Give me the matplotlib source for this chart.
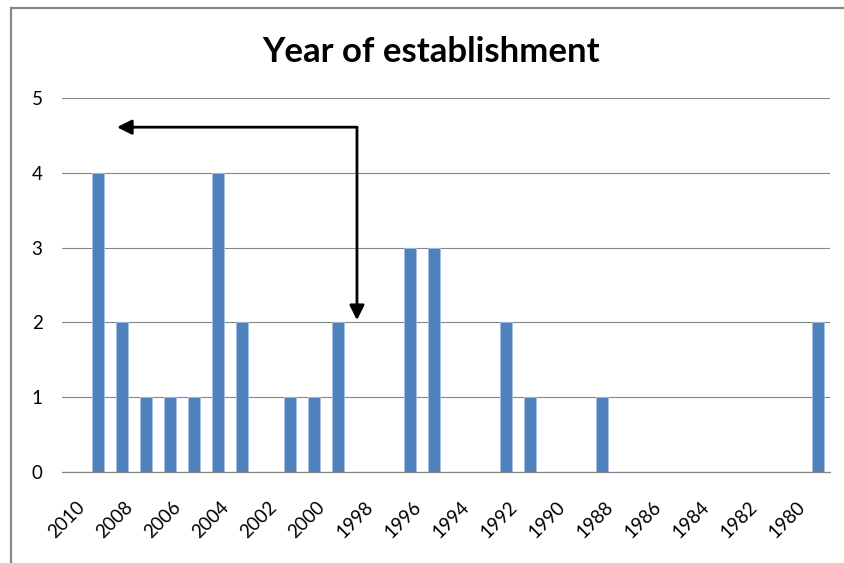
import matplotlib
matplotlib.use("Agg")
import matplotlib.pyplot as plt
import matplotlib.transforms as mtransforms
from matplotlib.lines import Line2D

# Number of organisations by year of establishment (newest first)
years = list(range(2010, 1978, -1))
counts = [0, 4, 2, 1, 1, 1, 4, 2, 0, 1, 1, 2, 0, 0, 3, 3,
          0, 0, 2, 1, 0, 0, 1, 0, 0, 0, 0, 0, 0, 0, 0, 2]
label_years = [y for y in years if y % 2 == 0]
y_ticks = [0, 1, 2, 3, 4, 5]
title = "Year of establishment"

plt.rcParams['font.family'] = ['Lato', 'DejaVu Sans']

W, H = 844, 563
fig = plt.figure(figsize=(W / 100, H / 100), dpi=100)
fig.patch.set_facecolor('white')

# chart frame (left and top edges)
frame_x, frame_y = 11 / W, 1 - 8 / H
fig.lines.append(Line2D([frame_x, frame_x], [0, frame_y],
                        transform=fig.transFigure, color='#888888', lw=1.6))
fig.lines.append(Line2D([frame_x, 1], [frame_y, frame_y],
                        transform=fig.transFigure, color='#888888', lw=1.6))

ax = fig.add_axes([62 / W, 1 - 472 / H, (830 - 62) / W, (472 - 98) / H])
idx = list(range(len(years)))
ax.bar(idx, counts, width=0.54, color='#4F81BD', edgecolor='#A7C0E2',
       linewidth=0.6, zorder=3)

ax.set_xlim(-0.5, len(years) - 0.5)
ax.set_ylim(0, 5)
ax.set_yticks(y_ticks)
ax.set_yticklabels([str(v) for v in y_ticks], fontsize=13.5)
ax.yaxis.grid(True, color='#868686', linewidth=0.8, zorder=0)
ax.tick_params(axis='y', length=0, pad=14)
ax.tick_params(axis='x', length=0, pad=23)

xt = [years.index(y) for y in label_years]
ax.set_xticks(xt)
ax.set_xticklabels([str(y) for y in label_years], fontsize=13.5,
                   rotation=45, ha='right', va='center',
                   rotation_mode='anchor')
offset = mtransforms.ScaledTranslation(8 / 100, 0, fig.dpi_scale_trans)
for lab in ax.get_xticklabels():
    lab.set_transform(lab.get_transform() + offset)

for side in ['top', 'right', 'left']:
    ax.spines[side].set_visible(False)
ax.spines['bottom'].set_color('#868686')
ax.spines['bottom'].set_linewidth(0.9)

# elbow arrow
corner_x, corner_y = 11.79, 4.61
arrow_kw = dict(arrowstyle='-|>', color='black', lw=2.0,
                mutation_scale=22, shrinkA=0, shrinkB=0)
ax.annotate('', xy=(1.79, corner_y), xytext=(corner_x, corner_y),
            arrowprops=arrow_kw, zorder=5)
ax.annotate('', xy=(corner_x, 2.03), xytext=(corner_x, corner_y),
            arrowprops=arrow_kw, zorder=5)

fig.text(431 / W, 1 - 62 / H, title, ha='center', va='baseline',
         fontsize=25, fontweight='bold')

fig.savefig('out.png', dpi=100)
